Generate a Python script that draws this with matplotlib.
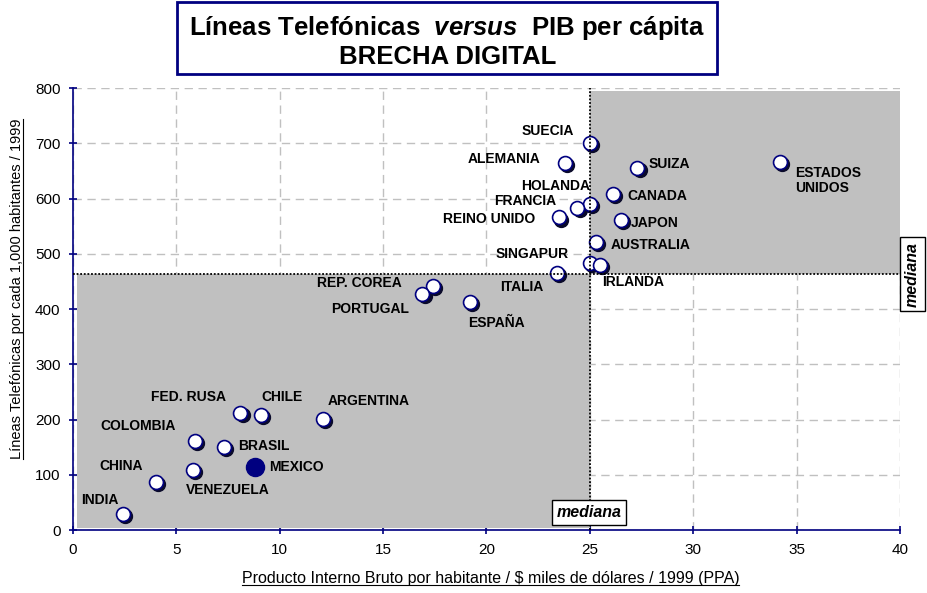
import matplotlib
matplotlib.use('Agg')
import matplotlib.pyplot as plt
from matplotlib.patches import Rectangle
from matplotlib.lines import Line2D
from matplotlib import transforms

plt.rcParams['font.family'] = ['Liberation Sans', 'DejaVu Sans']
plt.rcParams['mathtext.fontset'] = 'custom'
plt.rcParams['mathtext.it'] = 'Liberation Sans:italic:bold'
plt.rcParams['mathtext.rm'] = 'Liberation Sans:bold'

# Datos: PIB per capita (miles USD PPA) y lineas por cada 1,000 habitantes, 1999
paises = ['SUECIA', 'ALEMANIA', 'SUIZA', 'ESTADOS\nUNIDOS', 'HOLANDA', 'FRANCIA',
          'CANADA', 'REINO UNIDO', 'JAPON', 'AUSTRALIA', 'SINGAPUR', 'IRLANDA',
          'ITALIA', 'REP. COREA', 'PORTUGAL', 'ESPAÑA', 'ARGENTINA', 'CHILE',
          'FED. RUSA', 'COLOMBIA', 'BRASIL', 'MEXICO', 'VENEZUELA', 'CHINA', 'INDIA']
pib = [25.0, 23.8, 27.3, 34.2, 25.0, 24.4, 26.1, 23.5, 26.5, 25.3, 25.0, 25.5,
       23.4, 17.4, 16.9, 19.2, 12.1, 9.1, 8.1, 5.9, 7.3, 8.8, 5.8, 4.0, 2.4]
lineas = [700, 664, 655, 666, 590, 583, 608, 566, 561, 521, 483, 480,
          465, 442, 427, 413, 201, 208, 212, 161, 150, 114, 109, 87, 29]
mediana_pib = 25.0
mediana_lineas = 463

# posicion de las etiquetas (esquina izquierda, centro vertical)
pos_etiquetas = [(21.72, 722), (19.1, 671), (27.86, 662), (34.92, 633), (21.67, 623),
                 (20.36, 595), (26.8, 605), (17.9, 563), (26.99, 556), (26.02, 516),
                 (20.46, 500), (25.59, 449), (20.65, 440), (11.8, 447), (12.48, 400),
                 (19.1, 375), (12.33, 233), (9.09, 241), (3.77, 241), (1.31, 188),
                 (7.98, 152), (9.48, 114), (5.47, 72), (1.26, 116), (0.39, 54)]

navy = '#000080'
gris = '#c0c0c0'

fig = plt.figure(figsize=(9.27, 5.93), dpi=100)
ax = fig.add_axes([0.0787, 0.1062, 0.8922, 0.7454])

ax.set_xlim(0, 40)
ax.set_ylim(0, 800)
ax.set_xticks(range(0, 41, 5))
ax.set_yticks(range(0, 801, 100))
ax.grid(True, color=gris, linestyle=(0, (6, 4)), linewidth=1, zorder=0)
ax.set_axisbelow(True)
for s in ['top', 'right']:
    ax.spines[s].set_visible(False)
for s in ['left', 'bottom']:
    ax.spines[s].set_color(navy)
    ax.spines[s].set_linewidth(1.2)
ax.tick_params(colors=navy, labelcolor='black', labelsize=11, length=6, width=1.2,
               direction='inout', pad=6)

# cuadrantes sombreados
ax.add_patch(Rectangle((0.2, 4), mediana_pib - 0.2, mediana_lineas - 4,
                       facecolor=gris, edgecolor='none', zorder=1))
ax.add_patch(Rectangle((mediana_pib, mediana_lineas), 40 - mediana_pib, 795 - mediana_lineas,
                       facecolor=gris, edgecolor='none', zorder=1))

# puntos con sombra
sombra = transforms.offset_copy(ax.transData, fig=fig, x=1.6, y=-1.6, units='points')
otros = [i for i, p in enumerate(paises) if p != 'MEXICO']
xs = [pib[i] for i in otros]
ys = [lineas[i] for i in otros]
ax.plot(xs, ys, 'o', ms=10, color='#0a0a2a', mec='#0a0a2a', transform=sombra, zorder=3)
ax.plot(xs, ys, 'o', ms=10, mfc='white', mec=navy, mew=1.2, zorder=4)
im = paises.index('MEXICO')
ax.plot(pib[im], lineas[im], 'o', ms=13, color=navy, zorder=4)

# lineas de mediana
ax.axhline(mediana_lineas, color='black', linestyle=(0, (1, 1)), linewidth=1.3, zorder=5)
ax.axvline(mediana_pib, color='black', linestyle=(0, (1, 1)), linewidth=1.3, zorder=5)

for p, (lx, ly) in zip(paises, pos_etiquetas):
    ax.text(lx, ly, p, fontsize=10, fontweight='bold', ha='left', va='center',
            linespacing=1.1, zorder=6)

caja = dict(boxstyle='square,pad=0.3', facecolor='white', edgecolor='black', linewidth=1)
ax.text(24.95, 32, 'mediana', fontsize=11.5, fontweight='bold', style='italic',
        ha='center', va='center', bbox=caja, zorder=7)
ax.text(40.6, mediana_lineas, 'mediana', fontsize=11.5, fontweight='bold', style='italic',
        rotation=90, ha='center', va='center', bbox=caja, zorder=7, clip_on=False)

ax.set_xlabel('Producto Interno Bruto por habitante / $ miles de dólares / 1999 (PPA)',
              fontsize=11.5)
ax.set_ylabel('Líneas Telefónicas por cada 1,000 habitantes / 1999', fontsize=10.5)
ax.xaxis.set_label_coords(0.505, -0.092)
ax.yaxis.set_label_coords(-0.059, 0.545)

# titulo en recuadro
fig.add_artist(Rectangle((0.191, 0.8752), 0.582, 0.1214, transform=fig.transFigure,
                         facecolor='white', edgecolor=navy, linewidth=2))
fig.text(0.482, 0.953, r'Líneas Telefónicas  $versus$  PIB per cápita', fontsize=18.5,
         fontweight='bold', ha='center', va='center')
fig.text(0.483, 0.904, 'BRECHA DIGITAL', fontsize=18.5, fontweight='bold',
         ha='center', va='center')

# subrayado de etiquetas de ejes
fig.canvas.draw()
r = fig.canvas.get_renderer()
inv = fig.transFigure.inverted()
bx = ax.xaxis.label.get_window_extent(r).transformed(inv)
fig.add_artist(Line2D([bx.x0, bx.x1], [bx.y0 + 0.001, bx.y0 + 0.001], color='black',
                      linewidth=0.8, transform=fig.transFigure))
by = ax.yaxis.label.get_window_extent(r).transformed(inv)
fig.add_artist(Line2D([by.x1 - 0.001, by.x1 - 0.001], [by.y0, by.y1], color='black',
                      linewidth=0.8, transform=fig.transFigure))

fig.savefig('out.png', dpi=100)
